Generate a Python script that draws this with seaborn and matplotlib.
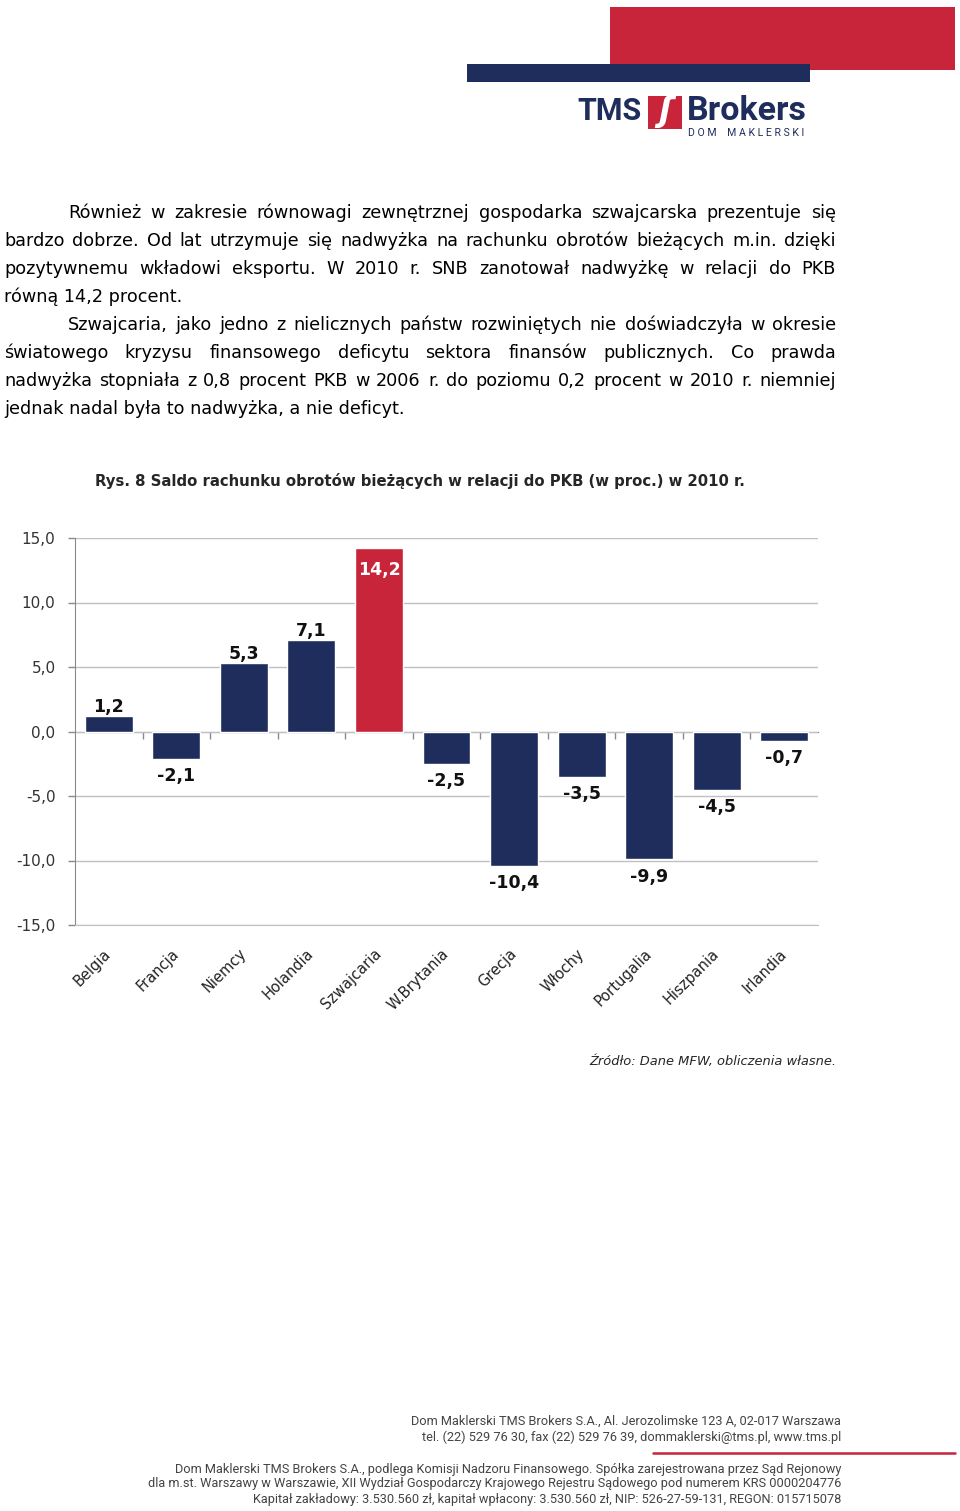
import matplotlib
matplotlib.use('Agg')
import numpy as np
import pandas as pd
import matplotlib.pyplot as plt
import seaborn as sns
from matplotlib.patches import Rectangle
from matplotlib.lines import Line2D
from matplotlib.ticker import FuncFormatter

# Dane wykresu
kraje = ['Belgia', 'Francja', 'Niemcy', 'Holandia', 'Szwajcaria', 'W.Brytania',
         'Grecja', 'Włochy', 'Portugalia', 'Hiszpania', 'Irlandia']
saldo = [1.2, -2.1, 5.3, 7.1, 14.2, -2.5, -10.4, -3.5, -9.9, -4.5, -0.7]
wyrozniony = 'Szwajcaria'
y_ticks = [-15, -10, -5, 0, 5, 10, 15]

tytul = 'Rys. 8 Saldo rachunku obrotów bieżących w relacji do PKB (w proc.) w 2010 r.'
zrodlo = 'Źródło: Dane MFW, obliczenia własne.'

# Tekst akapitów: (tekst, wyjustowany, wcięcie)
akapity = [
    ('Również w zakresie równowagi zewnętrznej gospodarka szwajcarska prezentuje się', True, True),
    ('bardzo dobrze. Od lat utrzymuje się nadwyżka na rachunku obrotów bieżących m.in. dzięki', True, False),
    ('pozytywnemu wkładowi eksportu. W 2010 r. SNB zanotował nadwyżkę w relacji do PKB', True, False),
    ('równą 14,2 procent.', False, False),
    ('Szwajcaria, jako jedno z nielicznych państw rozwiniętych nie doświadczyła w okresie', True, True),
    ('światowego kryzysu finansowego deficytu sektora finansów publicznych. Co prawda', True, False),
    ('nadwyżka stopniała z 0,8 procent PKB w 2006 r. do poziomu 0,2 procent w 2010 r. niemniej', True, False),
    ('jednak nadal była to nadwyżka, a nie deficyt.', False, False),
]

stopka_1 = [
    'Dom Maklerski TMS Brokers S.A., Al. Jerozolimske 123 A, 02-017 Warszawa',
    'tel. (22) 529 76 30, fax (22) 529 76 39, dommaklerski@tms.pl, www.tms.pl',
]
stopka_2 = [
    'Dom Maklerski TMS Brokers S.A., podlega Komisji Nadzoru Finansowego. Spółka zarejestrowana przez Sąd Rejonowy',
    'dla m.st. Warszawy w Warszawie, XII Wydział Gospodarczy Krajowego Rejestru Sądowego pod numerem KRS 0000204776',
    'Kapitał zakładowy: 3.530.560 zł, kapitał wpłacony: 3.530.560 zł, NIP: 526-27-59-131, REGON: 015715078',
]

GRANAT = '#1f2d5c'
CZERWONY = '#c8243a'

W, H = 960, 1511


def fx(x):
    return x / W


def fy(y):
    return 1 - y / H


sns.set_style('white')
plt.rcParams['font.family'] = ['DejaVu Sans']

fig = plt.figure(figsize=(W / 100, H / 100), dpi=100)
renderer = fig.canvas.get_renderer()

# --- Nagłówek z logo ---
fig.patches.append(Rectangle((fx(610), fy(70)), fx(345), 63 / H, transform=fig.transFigure,
                             facecolor=CZERWONY, edgecolor='none'))
fig.patches.append(Rectangle((fx(467), fy(82)), fx(343), 18 / H, transform=fig.transFigure,
                             facecolor=GRANAT, edgecolor='none'))
fig.text(fx(577), fy(111), 'TMS', family='Roboto', weight='bold', fontsize=22,
         color=GRANAT, va='center', ha='left')
fig.patches.append(Rectangle((fx(648), fy(129)), fx(34), 33 / H, transform=fig.transFigure,
                             facecolor=CZERWONY, edgecolor='none'))
fig.text(fx(665), fy(112), 'ʃ', fontsize=24, style='italic', weight='bold',
         color='white', ha='center', va='center')
fig.text(fx(687), fy(111), 'Brokers', family='Roboto', weight='bold', fontsize=24.5,
         color=GRANAT, va='center', ha='left')
fig.text(fx(688), fy(133), 'D O M    M A K L E R S K I', family='Roboto', fontsize=7.6,
         color=GRANAT, va='center', ha='left')


# --- Tekst akapitów ---
def linia(text, x0, x1, y, justify, **kw):
    slowa = text.split(' ')
    if not justify:
        fig.text(fx(x0), fy(y), text, va='center', ha='left', **kw)
        return
    obiekty = [fig.text(0, fy(y), s, va='center', ha='left', **kw) for s in slowa]
    szer = [o.get_window_extent(renderer).width for o in obiekty]
    odstep = (x1 - x0 - sum(szer)) / (len(slowa) - 1)
    x = x0
    for o, w in zip(obiekty, szer):
        o.set_x(fx(x))
        x += w + odstep


for i, (txt, just, wciecie) in enumerate(akapity):
    x0 = 68 if wciecie else 4
    linia(txt, x0, 836, 213 + 28 * i, just, fontsize=12.7, color='black')

fig.text(fx(95), fy(481), tytul, fontsize=10.7, weight='bold', va='center', ha='left')

# --- Wykres ---
df = pd.DataFrame({'kraj': kraje, 'saldo': saldo})
paleta = {k: (CZERWONY if k == wyrozniony else GRANAT) for k in kraje}

ax = fig.add_axes([fx(75), fy(925), 743 / W, 387 / H])
sns.barplot(data=df, x='kraj', y='saldo', hue='kraj', palette=paleta, legend=False,
            width=0.71, saturation=1, ax=ax, zorder=3)

ax.set_ylim(-15, 15)
ax.set_xlim(-0.5, len(kraje) - 0.5)
ax.set_yticks(y_ticks)
ax.yaxis.set_major_formatter(FuncFormatter(lambda v, p: f'{v:.1f}'.replace('.', ',')))
ax.yaxis.grid(True, color='#c0c0c0', lw=1)
ax.set_axisbelow(True)
ax.set_xlabel('')
ax.set_ylabel('')

for s in ['top', 'right']:
    ax.spines[s].set_visible(False)
ax.spines['left'].set_color('#8a8a8a')
ax.spines['bottom'].set_color('#c0c0c0')

ax.tick_params(axis='y', direction='out', length=5, width=1, color='#8a8a8a',
               labelsize=11, labelcolor='#333333', pad=9, left=True)
ax.tick_params(axis='x', length=0, labelsize=10.5, labelcolor='#222222', pad=19)
for lab in ax.get_xticklabels():
    lab.set_rotation(45)
    lab.set_rotation_mode('anchor')
    lab.set_ha('right')
    lab.set_va('center')

# linia zera z kreskami pomiędzy kategoriami
sec = ax.secondary_xaxis(0.5)
sec.set_alignment('bottom')
sec.set_xticks(np.arange(len(kraje) - 1) + 0.5)
sec.set_xticklabels([])
sec.tick_params(direction='out', length=5, color='#8a8a8a', width=1)
sec.spines['bottom'].set_color('#8a8a8a')

# etykiety wartości
for i, v in enumerate(saldo):
    tekst = f'{v:.1f}'.replace('.', ',')
    if kraje[i] == wyrozniony:
        ax.annotate(tekst, (i, v), xytext=(0, -9), textcoords='offset points',
                    ha='center', va='top', fontsize=12.5, weight='bold', color='white')
    elif v >= 0:
        ax.annotate(tekst, (i, v), xytext=(0, 0), textcoords='offset points',
                    ha='center', va='bottom', fontsize=12.5, weight='bold', color='#111111')
    else:
        ax.annotate(tekst, (i, v), xytext=(0, -6), textcoords='offset points',
                    ha='center', va='top', fontsize=12.5, weight='bold', color='#111111')

fig.text(fx(836), fy(1062), zrodlo, fontsize=9.4, style='italic', va='center', ha='right')

# --- Stopka ---
for j, t in enumerate(stopka_1):
    fig.text(fx(841), fy(1421 + 16 * j), t, family='Roboto', fontsize=9.2,
             color='#444444', va='center', ha='right')
fig.lines.append(Line2D([fx(653), fx(955)], [fy(1453), fy(1453)], transform=fig.transFigure,
                        color=CZERWONY, lw=1.8))
for j, t in enumerate(stopka_2):
    fig.text(fx(841), fy(1469 + 15 * j), t, family='Roboto', fontsize=9.2,
             color='#444444', va='center', ha='right')

fig.savefig('out.png', dpi=100)
